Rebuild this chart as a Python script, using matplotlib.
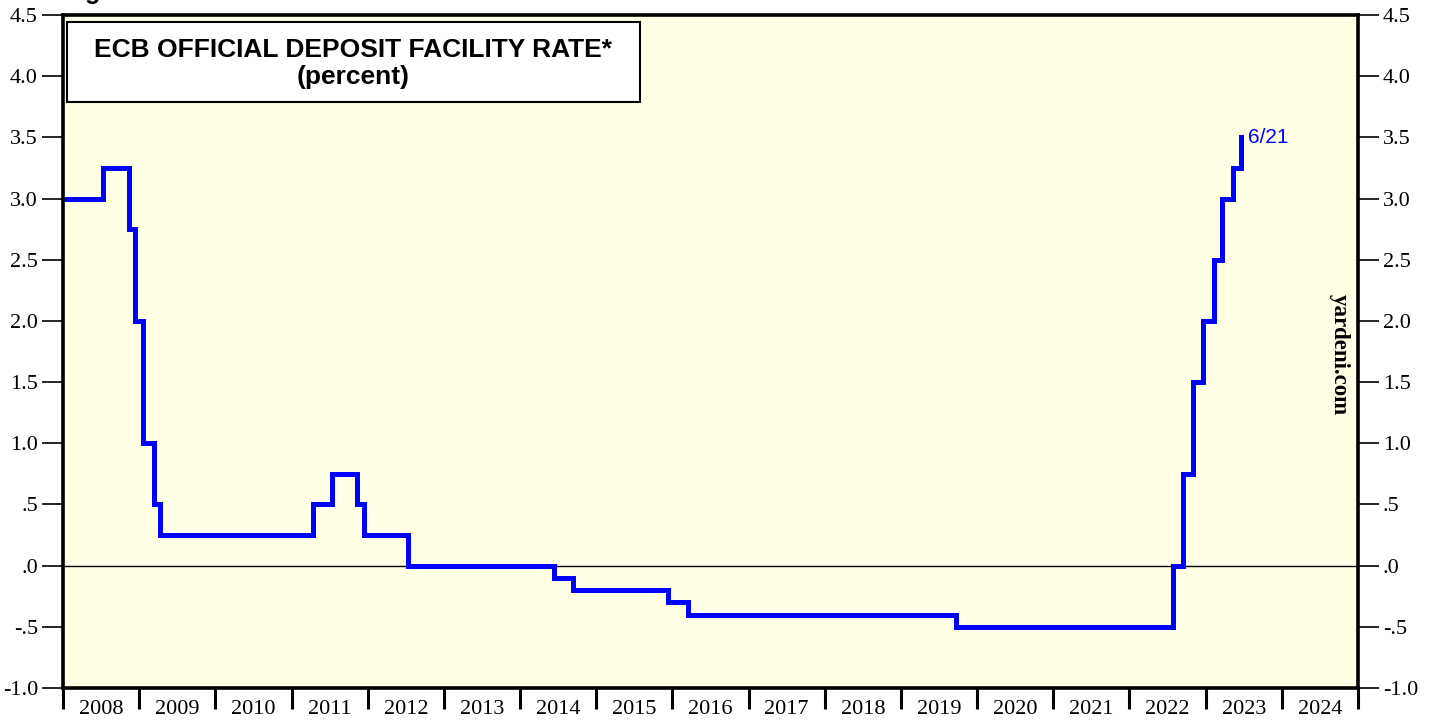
import matplotlib.pyplot as plt
import numpy as np
from matplotlib.ticker import FixedLocator, FuncFormatter

# ECB deposit facility rate change dates (decimal years) and new rate levels
change_dates = [2008.0, 2008.52, 2008.865, 2008.94, 2009.055, 2009.19, 2009.27,
                2011.28, 2011.53, 2011.86, 2011.95, 2012.53, 2014.44, 2014.69,
                2015.94, 2016.21, 2019.72, 2022.57, 2022.70, 2022.84, 2022.97,
                2023.105, 2023.22, 2023.355, 2023.47]
rates = [3.00, 3.25, 2.75, 2.00, 1.00, 0.50, 0.25,
         0.50, 0.75, 0.50, 0.25, 0.00, -0.10, -0.20,
         -0.30, -0.40, -0.50, 0.00, 0.75, 1.50, 2.00,
         2.50, 3.00, 3.25, 3.50]
years = list(range(2008, 2025))
y_ticks = [-1.0, -0.5, 0.0, 0.5, 1.0, 1.5, 2.0, 2.5, 3.0, 3.5, 4.0, 4.5]

serif = 'Liberation Serif'
sans = 'Liberation Sans'

fig = plt.figure(figsize=(14.29, 7.21), dpi=100)
ax = fig.add_axes([63 / 1429, 1 - 688 / 721, (1358 - 63) / 1429, (688 - 15) / 721])
ax.set_facecolor('#ffffe6')

ax.step(change_dates, rates, where='post', color='#0000ff', lw=3.6, solid_joinstyle='miter')
ax.axhline(0, color='black', lw=1, zorder=1)
ax.text(change_dates[-1] + 0.08, rates[-1], '6/21', color='#0000ff', fontsize=15,
        family=sans, va='center', ha='left')

ax.set_xlim(2008, 2025)
ax.set_ylim(-1.0, 4.5)

ax.xaxis.set_major_locator(FixedLocator(years + [2025]))
ax.xaxis.set_minor_locator(FixedLocator([y + 0.5 for y in years]))
ax.xaxis.set_major_formatter(FuncFormatter(lambda v, p: ''))
ax.xaxis.set_minor_formatter(FuncFormatter(lambda v, p: str(int(v))))
ax.tick_params(axis='x', which='major', direction='out', length=15, width=2.2)
ax.tick_params(axis='x', which='minor', length=0, pad=9, labelsize=16)


def fmt(v, p):
    s = f'{v:.1f}'
    return s.replace('0.', '.') if abs(v) < 1 else s


ax.yaxis.set_major_locator(FixedLocator(y_ticks))
ax.yaxis.set_major_formatter(FuncFormatter(fmt))
ax.tick_params(axis='y', which='major', direction='out', length=15, width=1.2,
               left=True, right=True, labelleft=True, labelright=True, pad=3,
               labelsize=16)

fig.canvas.draw()
for lab in ax.get_xticklabels(minor=True):
    lab.set_fontfamily(serif)
for t in ax.yaxis.get_major_ticks():
    t.label1.set_fontfamily(serif)
    t.label2.set_fontfamily(serif)

for s in ax.spines.values():
    s.set_linewidth(2.6)

ax.text(0.9855, 0.495, 'yardeni.com', transform=ax.transAxes, rotation=-90,
        fontsize=16.5, fontweight='bold', family=serif,
        ha='center', va='center')

box = plt.Rectangle((67 / 1429, 1 - 102 / 721), (640 - 67) / 1429, 80 / 721,
                    transform=fig.transFigure, fc='white', ec='black', lw=1.5, zorder=3)
fig.add_artist(box)
fig.text((67 + 640) / 2 / 1429, 1 - 50 / 721, 'ECB OFFICIAL DEPOSIT FACILITY RATE*',
         ha='center', va='center', fontsize=19, fontweight='bold', family=sans, zorder=4)
fig.text((67 + 640) / 2 / 1429, 1 - 77 / 721, '(percent)',
         ha='center', va='center', fontsize=19, fontweight='bold', family=sans, zorder=4)

fig.text(63 / 1429, 1 + 1 / 721, 'Figure 1.', fontsize=18, fontweight='bold',
         family=sans, ha='left', va='baseline')

fig.savefig('out.png', dpi=100)
